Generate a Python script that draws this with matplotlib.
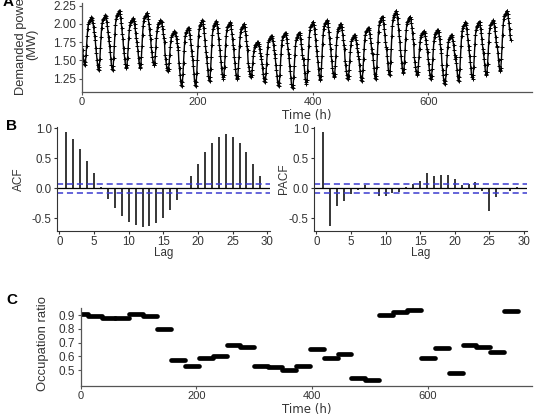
import numpy as np
import matplotlib
matplotlib.use('Agg')
import matplotlib.pyplot as plt

# ---------------- data ----------------
# Panel A: daily trough / peak of demanded power (MW), 31 days of hourly data
day_min = [1.44, 1.37, 1.37, 1.40, 1.40, 1.43, 1.35, 1.15, 1.15, 1.22, 1.25,
           1.24, 1.27, 1.20, 1.15, 1.12, 1.18, 1.23, 1.27, 1.25, 1.22, 1.24,
           1.30, 1.33, 1.30, 1.25, 1.17, 1.22, 1.25, 1.30, 1.35]
day_max = [2.09, 2.12, 2.18, 2.08, 2.15, 2.05, 1.90, 1.95, 2.05, 2.04, 2.02,
           2.00, 1.75, 1.84, 1.88, 1.88, 2.03, 2.05, 2.00, 1.85, 1.95, 2.10,
           2.18, 2.10, 1.90, 1.92, 1.85, 2.02, 2.03, 2.05, 2.18]
# typical normalised hourly shape within a day (0 = trough, 1 = peak)
hour_profile = [0.40, 0.30, 0.18, 0.08, 0.02, 0.00, 0.06, 0.20, 0.40, 0.60,
                0.76, 0.86, 0.91, 0.93, 0.95, 0.97, 1.00, 0.99, 0.95, 0.88,
                0.80, 0.70, 0.60, 0.52]

# Panel B: ACF / PACF
lags = list(range(1, 30))
acf_vals = [0.94, 0.83, 0.66, 0.46, 0.25, 0.03, -0.17, -0.33, -0.46, -0.56,
            -0.62, -0.64, -0.63, -0.58, -0.49, -0.36, -0.20, -0.01, 0.20, 0.41,
            0.60, 0.75, 0.86, 0.90, 0.86, 0.76, 0.60, 0.41, 0.20]
pacf_vals = [0.94, -0.63, -0.30, -0.21, -0.10, -0.02, 0.05, 0.00, -0.12, -0.13,
             -0.08, -0.06, 0.02, 0.08, 0.12, 0.26, 0.20, 0.23, 0.22, 0.16,
             0.06, 0.07, 0.10, -0.04, -0.38, -0.14, -0.01, -0.05, 0.03]
conf = 0.072

# Panel C: daily occupation ratio
occ_time = list(range(0, 745, 24))
occ_vals = [0.91, 0.89, 0.88, 0.88, 0.91, 0.89, 0.80, 0.57, 0.53, 0.59, 0.60,
            0.68, 0.67, 0.53, 0.52, 0.50, 0.53, 0.65, 0.59, 0.62, 0.44, 0.43,
            0.90, 0.92, 0.94, 0.59, 0.66, 0.48, 0.68, 0.67, 0.63, 0.93]

# ---------------- build hourly series ----------------
power = []
for dmin, dmax in zip(day_min, day_max):
    for p in hour_profile:
        power.append(dmin + p * (dmax - dmin))
hours = np.arange(len(power))

# ---------------- figure ----------------
ARIAL = 'Liberation Sans'
VERD = 'DejaVu Sans'
fig = plt.figure(figsize=(5.37, 4.18), dpi=100)
spine_col = '#555555'
txt_col = '#333333'


def style_xl(ax):
    for s in ['top', 'right']:
        ax.spines[s].set_visible(False)
    for s in ['left', 'bottom']:
        ax.spines[s].set_color(spine_col)
        ax.spines[s].set_linewidth(0.9)
    ax.tick_params(axis='both', length=2, width=0.8, color=spine_col,
                   labelsize=8.5, labelcolor=txt_col, pad=2)
    ax.tick_params(axis='x', labelsize=8)
    for lab in ax.get_xticklabels() + ax.get_yticklabels():
        lab.set_family(ARIAL)


# Panel A
axA = fig.add_axes([0.1527, 0.7806, 0.838, 0.2129])
axA.plot(hours, power, color='black', lw=1.0, marker='+', ms=2.5, mew=0.7)
axA.set_xlim(0, 780)
axA.set_ylim(1.07, 2.29)
axA.set_xticks([0, 200, 400, 600])
axA.set_yticks([1.25, 1.50, 1.75, 2.00, 2.25])
axA.set_yticklabels(['1.25', '1.50', '1.75', '2.00', '2.25'])
style_xl(axA)
axA.set_xlabel('Time (h)', family=VERD, fontsize=8.5, color=txt_col, labelpad=1)
axA.set_ylabel('Demanded power\n(MW)', family=ARIAL, fontsize=9.3,
               color=txt_col, linespacing=0.9)
axA.yaxis.set_label_coords(-0.098, 0.536)

# Panel B
def acf_panel(rect, vals, ylabel, lab_x):
    ax = fig.add_axes(rect)
    ax.vlines(lags, 0, vals, color='black', lw=1.1)
    ax.axhline(0, color='black', lw=0.9)
    ax.axhline(conf, color='#3a3ad0', lw=1.1, ls=(0, (4, 2.5)))
    ax.axhline(-conf, color='#3a3ad0', lw=1.1, ls=(0, (4, 2.5)))
    ax.set_xlim(-0.3, 30.4)
    ax.set_ylim(-0.707, 1.03)
    ax.set_xticks([0, 5, 10, 15, 20, 25, 30])
    ax.set_yticks([-0.5, 0.0, 0.5, 1.0])
    ax.set_yticklabels(['-0.5', '0.0', '0.5', '1.0'])
    for s in ['top', 'right']:
        ax.spines[s].set_visible(False)
    for s in ['left', 'bottom']:
        ax.spines[s].set_color('#333333')
        ax.spines[s].set_linewidth(0.8)
    ax.tick_params(axis='both', length=2.5, width=0.8, color='#333333',
                   labelsize=8.3, labelcolor=txt_col, pad=1.5)
    for lab in ax.get_xticklabels() + ax.get_yticklabels():
        lab.set_family(ARIAL)
    ax.set_xlabel('Lag', family=ARIAL, fontsize=8.3, color=txt_col, labelpad=-1)
    ax.set_ylabel(ylabel, family=ARIAL, fontsize=8.5, color=txt_col)
    ax.yaxis.set_label_coords(lab_x, 0.5)
    return ax

acf_panel([0.1067, 0.4481, 0.3961, 0.2488], acf_vals, 'ACF', -0.152)
acf_panel([0.5853, 0.4481, 0.3955, 0.2488], pacf_vals, 'PACF', -0.114)

# Panel C
axC = fig.add_axes([0.1503, 0.0773, 0.8404, 0.1851])
t = np.array(occ_time)
lc = axC.hlines(occ_vals, t - 12, t + 12, color='black', lw=3.4)
lc.set_capstyle('round')
axC.set_xlim(0, 780)
axC.set_ylim(0.386, 0.949)
axC.set_xticks([0, 200, 400, 600])
axC.set_yticks([0.5, 0.6, 0.7, 0.8, 0.9])
style_xl(axC)
axC.set_xlabel('Time (h)', family=VERD, fontsize=8.5, color=txt_col, labelpad=1)
axC.set_ylabel('Occupation ratio', family=ARIAL, fontsize=9.4, color=txt_col)
axC.yaxis.set_label_coords(-0.071, 0.55)

# panel letters
fig.text(0.004, 0.986, 'A', family=ARIAL, fontsize=11, fontweight='bold')
fig.text(0.012, 0.688, 'B', family=ARIAL, fontsize=11, fontweight='bold')
fig.text(0.012, 0.273, 'C', family=ARIAL, fontsize=11, fontweight='bold')

fig.savefig('out.png', dpi=100)
